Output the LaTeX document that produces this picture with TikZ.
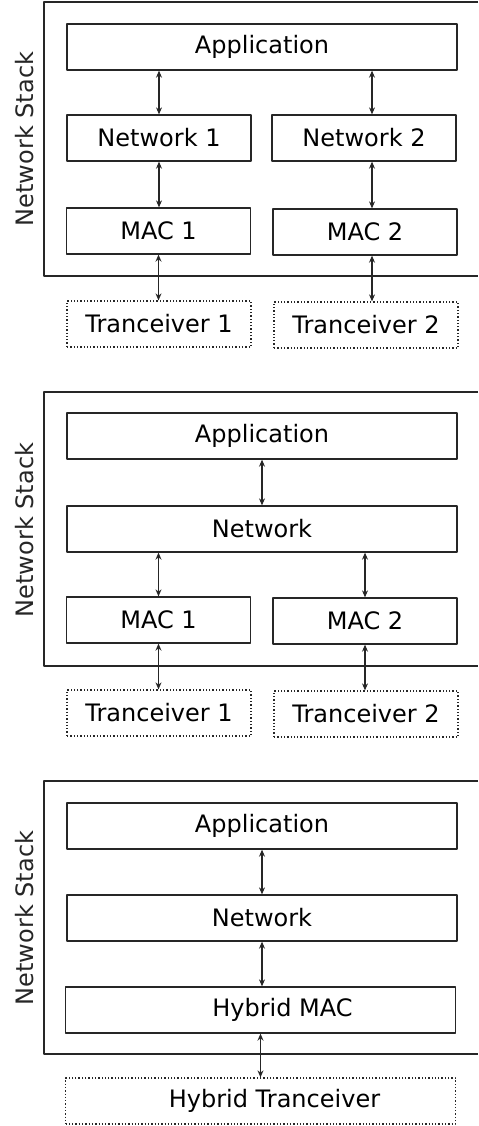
\documentclass[tikz,border=0pt]{standalone}
\usepackage{fontspec}
\setmainfont{DejaVu Sans}
\usetikzlibrary{arrows.meta}
\begin{document}
\begin{tikzpicture}[x=0.5pt, y=-0.5pt, font=\fontsize{12}{14}\selectfont, line join=round, >={Stealth[length=3.5pt,width=3pt]}]
	\tikzset{layer-box/.style={draw=black!85, line width=0.65pt, minimum height=23pt, inner sep=0pt},
		wide-box/.style={layer-box, minimum width=195pt},
		half-box/.style={layer-box, minimum width=92pt},
		radio-box/.style={half-box, densely dotted},
		link-arrow/.style={<->, line width=0.55pt, draw=black!85},
		stack-frame/.style={draw=black!85, line width=0.65pt}}
	\useasboundingbox (0,0) rectangle (478,1126);
	% panel 1: two networks, two macs
	\draw[stack-frame] (478,2)--(44,2)--(44,276)--(478,276);
	\node[rotate=90, text=black!85] (stack1) at (25,139) {Network Stack};
	\node[wide-box] (app1) at (262,47) {Application};
	\node[half-box] (net1a) at (159,138) {Network 1};
	\node[half-box] (net1b) at (364,138) {Network 2};
	\node[half-box] (mac1a) at (158.5,231) {MAC 1};
	\node[half-box] (mac1b) at (365,232) {MAC 2};
	\node[radio-box] (trx1a) at (159,324) {Tranceiver 1};
	\node[radio-box] (trx1b) at (366,325) {Tranceiver 2};
	\draw[link-arrow] (app1.south -| net1a) -- (net1a.north);
	\draw[link-arrow] ([xshift=4pt]app1.south -| net1b) -- ([xshift=4pt]net1b.north);
	\draw[link-arrow] (net1a.south) -- (net1a.south |- mac1a.north);
	\draw[link-arrow] ([xshift=4pt]net1b.south) -- ([xshift=4pt]net1b.south |- mac1b.north);
	\draw[link-arrow] (mac1a.south) -- (mac1a.south |- trx1a.north);
	\draw[link-arrow] ([xshift=3.5pt]mac1b.south) -- ([xshift=3.5pt]mac1b.south |- trx1b.north);
	% panel 2: one network, two macs
	\draw[stack-frame] (478,392)--(44,392)--(44,666)--(478,666);
	\node[rotate=90, text=black!85] (stack2) at (25,530) {Network Stack};
	\node[wide-box] (app2) at (262,436) {Application};
	\node[wide-box] (net2) at (262,529) {Network};
	\node[half-box] (mac2a) at (158.5,620) {MAC 1};
	\node[half-box] (mac2b) at (365,621) {MAC 2};
	\node[radio-box] (trx2a) at (159,713) {Tranceiver 1};
	\node[radio-box] (trx2b) at (366,714) {Tranceiver 2};
	\draw[link-arrow] (app2.south) -- (net2.north);
	\draw[link-arrow] (mac2a.north |- net2.south) -- (mac2a.north);
	\draw[link-arrow] (mac2b.north |- net2.south) -- (mac2b.north);
	\draw[link-arrow] (mac2a.south) -- (mac2a.south |- trx2a.north);
	\draw[link-arrow] (mac2b.south) -- (mac2b.south |- trx2b.north);
	% panel 3: hybrid
	\draw[stack-frame] (478,781)--(44,781)--(44,1054)--(478,1054);
	\node[rotate=90, text=black!85] (stack3) at (25,918) {Network Stack};
	\node[wide-box] (app3) at (262,826) {Application};
	\node[wide-box] (net3) at (262,918) {Network};
	\node[wide-box] (mac3) at (260.5,1010) {\hspace*{22pt}Hybrid MAC};
	\node[wide-box, densely dotted] (trx3) at (260.5,1101) {\hspace*{14pt}Hybrid Tranceiver};
	\draw[link-arrow] (app3.south) -- (net3.north);
	\draw[link-arrow] (net3.south) -- (net3.south |- mac3.north);
	\draw[link-arrow] (mac3.south) -- (trx3.north);
\end{tikzpicture}
\end{document}
